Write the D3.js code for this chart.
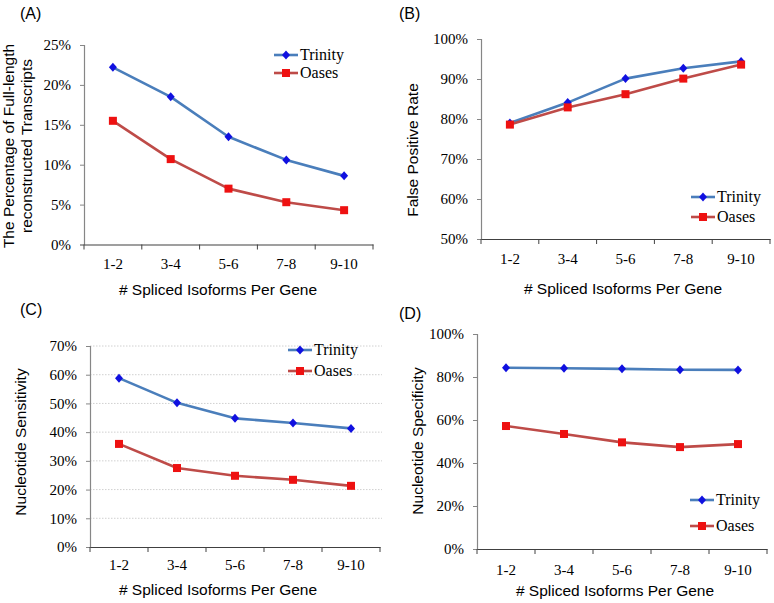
<!DOCTYPE html>
<html><head><meta charset="utf-8">
<script src="https://cdn.jsdelivr.net/npm/d3@7"></script>
<style>body{margin:0;background:#fff}svg{display:block}</style>
</head><body>
<svg id="chart" width="774" height="603"></svg>
<script>
const categories = ["1-2","3-4","5-6","7-8","9-10"];
const seriesNames = ["Trinity","Oases"];
const fullLengthTrinity = [22.2, 18.5, 13.5, 10.6, 8.6];
const fullLengthOases   = [15.5, 10.7, 7.0, 5.3, 4.3];
const fprTrinity  = [79.0, 84.1, 90.1, 92.7, 94.4];
const fprOases    = [78.6, 82.9, 86.2, 90.1, 93.6];
const sensTrinity = [58.8, 50.2, 44.8, 43.2, 41.3];
const sensOases   = [35.9, 27.5, 24.8, 23.4, 21.3];
const specTrinity = [84.3, 84.1, 83.8, 83.4, 83.3];
const specOases   = [57.2, 53.5, 49.6, 47.4, 48.8];
const ticksA = [0,5,10,15,20,25];
const ticksB = [50,60,70,80,90,100];
const ticksC = [0,10,20,30,40,50,60,70];
const ticksD = [0,20,40,60,80,100];
const panelLabels = ["(A)","(B)","(C)","(D)"];
const yTitles = [["The Percentage of Full-length","reconstructed Transcripts"],["False Positive Rate"],["Nucleotide Sensitivity"],["Nucleotide Specificity"]];
const xTitle = "# Spliced Isoforms Per Gene";

const svg = d3.select("#chart");
const SERIF = "'Liberation Serif','Times New Roman',serif";
const SANS = "'Liberation Sans',Arial,sans-serif";
const lineColors = ["#4A7EBB","#BE4B48"];
const markColors = ["#1010E0","#EE1111"];

const panels = [
  {label:panelLabels[0], lab:[20,19], x0:84, x1:373, yT:45, yB:244.5, dom:[0,25], ticks:ticksA, data:[fullLengthTrinity, fullLengthOases],
   ytitle:yTitles[0], ytx:[14,32], yty:146, xtx:218, xty:295, xly:269, leg:{x:274, y:[55,73]}, grid:false},
  {label:panelLabels[1], lab:[399,19], x0:481, x1:770, yT:39, yB:239, dom:[50,100], ticks:ticksB, data:[fprTrinity, fprOases],
   ytitle:yTitles[1], ytx:[418], yty:150, xtx:623, xty:294, xly:264, leg:{x:691, y:[197,217]}, grid:false},
  {label:panelLabels[2], lab:[20,315], x0:90, x1:380, yT:346, yB:547, dom:[0,70], ticks:ticksC, data:[sensTrinity, sensOases],
   ytitle:yTitles[2], ytx:[26], yty:442, xtx:218, xty:595, xly:570, leg:{x:288, y:[350,371]}, grid:true},
  {label:panelLabels[3], lab:[399,319], x0:477, x1:767, yT:334, yB:549, dom:[0,100], ticks:ticksD, data:[specTrinity, specOases],
   ytitle:yTitles[3], ytx:[423], yty:441, xtx:615, xty:596, xly:575, leg:{x:690, y:[500,526]}, grid:false}
];

function marker(g, i, cx, cy){
  if(i===0){
    g.append("path").attr("d", `M${cx},${cy-4.5}L${cx+4},${cy}L${cx},${cy+4.5}L${cx-4},${cy}Z`).attr("fill", markColors[0]);
  } else {
    g.append("rect").attr("x", cx-4).attr("y", cy-4).attr("width", 8).attr("height", 8).attr("fill", markColors[1]);
  }
}

panels.forEach(p => {
  const g = svg.append("g");
  const x = d3.scaleBand().domain(categories).range([p.x0, p.x1]).padding(0);
  const y = d3.scaleLinear().domain(p.dom).range([p.yB, p.yT]);

  if(p.grid){
    g.append("g").selectAll("line").data(p.ticks.slice(1)).join("line")
      .attr("x1", p.x0).attr("x2", p.x1+2).attr("y1", d=>y(d)).attr("y2", d=>y(d))
      .attr("stroke", "#d0d0d0").attr("stroke-width", 1).attr("stroke-dasharray", "1.5,1.5");
  }

  // y axis
  const ya = g.append("g").attr("transform", `translate(${p.x0},0)`)
    .call(d3.axisLeft(y).tickValues(p.ticks).tickSize(4).tickPadding(9).tickFormat(d=>d+"%"));
  ya.select(".domain").attr("stroke", "#868686").attr("stroke-width", 1.2);
  ya.selectAll(".tick line").attr("stroke", "#868686");
  ya.selectAll("text").attr("font-family", SERIF).attr("font-size", 15).attr("fill", "#000");

  // x axis
  const xa = g.append("g").attr("transform", `translate(0,${p.yB})`)
    .call(d3.axisBottom(x).tickSize(0).tickFormat(""));
  xa.select(".domain").attr("stroke", "#404040").attr("stroke-width", 1.2);
  xa.selectAll(".tick").remove();
  const edges = categories.map(c=>x(c)).concat([p.x1]);
  g.append("g").selectAll("line").data(edges).join("line")
    .attr("x1", d=>d).attr("x2", d=>d).attr("y1", p.yB).attr("y2", p.yB+5)
    .attr("stroke", "#404040").attr("stroke-width", 1);
  g.append("g").selectAll("text").data(categories).join("text")
    .attr("x", d=>x(d)+x.bandwidth()/2).attr("y", p.xly).attr("text-anchor","middle")
    .attr("font-family", SERIF).attr("font-size", 15).text(d=>d);

  // series
  p.data.forEach((vals, i) => {
    const pts = categories.map((c,k)=>[x(c)+x.bandwidth()/2, y(vals[k])]);
    g.append("path").attr("d", d3.line()(pts)).attr("fill","none")
      .attr("stroke", lineColors[i]).attr("stroke-width", 2.6).attr("stroke-linejoin","round");
    pts.forEach(pt => marker(g, i, pt[0], pt[1]));
  });

  // legend
  seriesNames.forEach((s,i) => {
    const ly = p.leg.y[i];
    g.append("line").attr("x1", p.leg.x).attr("x2", p.leg.x+24).attr("y1", ly).attr("y2", ly)
      .attr("stroke", lineColors[i]).attr("stroke-width", 2.6);
    marker(g, i, p.leg.x+12, ly);
    g.append("text").attr("x", p.leg.x+26).attr("y", ly+5).attr("font-family", SERIF)
      .attr("font-size", 16).text(s);
  });

  // titles
  g.append("text").attr("x", p.lab[0]).attr("y", p.lab[1]).attr("font-family", SANS).attr("font-size", 16).text(p.label);
  g.append("text").attr("x", p.xtx).attr("y", p.xty).attr("text-anchor","middle").attr("font-family", SANS)
    .attr("font-size", 15.5).text(xTitle);
  p.ytitle.forEach((t, k) => {
    g.append("text").attr("transform", `translate(${p.ytx[k]},${p.yty}) rotate(-90)`)
      .attr("text-anchor","middle").attr("font-family", SANS).attr("font-size", 15.5).text(t);
  });
});
</script>
</body></html>
